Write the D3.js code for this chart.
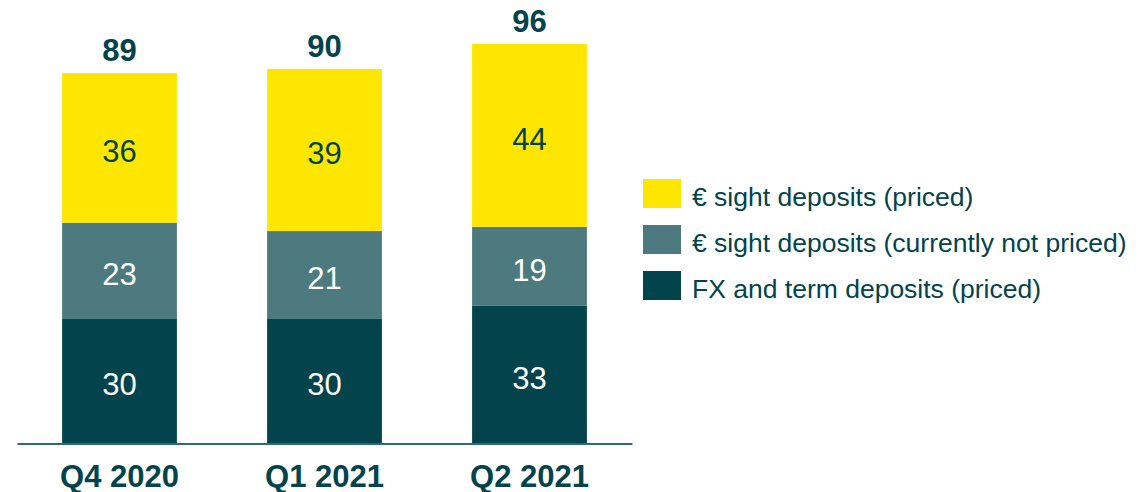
<!DOCTYPE html>
<html>
<head>
<meta charset="utf-8">
<script src="https://cdn.jsdelivr.net/npm/d3@7"></script>
<style>
  body { margin: 0; background: #fff; }
  text { font-family: Arial, "Liberation Sans", sans-serif; }
</style>
</head>
<body>
<svg id="chart"></svg>
<script>
let quarters = ['Q4 2020', 'Q1 2021', 'Q2 2021']
let fxTerm = [30, 30, 33]
let sightNotPriced = [23, 21, 19]
let sightPriced = [36, 39, 44]
let totals = [89, 90, 96]
let seriesNames = ['€ sight deposits (priced)', '€ sight deposits (currently not priced)', 'FX and term deposits (priced)']

let width = 1142
let height = 492
let dark = '#02434c'
let colors = { fx: '#02434c', np: '#4d7a7e', pr: '#ffe600' }

let svg = d3.select('#chart').attr('width', width).attr('height', height)

let rows = quarters.map((q, i) => ({ q: q, fx: fxTerm[i], np: sightNotPriced[i], pr: sightPriced[i], total: totals[i] }))
let stack = d3.stack().keys(['fx', 'np', 'pr'])(rows)

let xScale = d3.scaleBand().domain(quarters).range([17, 632]).paddingInner(0.44).paddingOuter(0.22)
let yScale = d3.scaleLinear().domain([0, 96]).range([443, 44])

// bars
let layers = svg.selectAll('g.layer')
    .data(stack)
    .enter()
    .append('g')
    .attr('class', 'layer')
    .attr('fill', d => colors[d.key])

layers.selectAll('rect')
    .data(d => d)
    .enter()
    .append('rect')
    .attr('x', d => xScale(d.data.q))
    .attr('width', xScale.bandwidth())
    .attr('y', d => yScale(d[1]))
    .attr('height', d => yScale(d[0]) - yScale(d[1]))

// segment labels
stack.forEach(layer => {
    svg.append('g').selectAll('text')
        .data(layer)
        .enter()
        .append('text')
        .attr('x', d => xScale(d.data.q) + xScale.bandwidth() / 2)
        .attr('y', d => (yScale(d[0]) + yScale(d[1])) / 2)
        .attr('dy', '0.46em')
        .attr('text-anchor', 'middle')
        .attr('font-size', 31)
        .attr('fill', layer.key == 'pr' ? dark : '#fff')
        .text(d => d.data[layer.key])
})

// totals
svg.append('g').selectAll('text')
    .data(rows)
    .enter()
    .append('text')
    .attr('x', d => xScale(d.q) + xScale.bandwidth() / 2)
    .attr('y', d => yScale(d.fx + d.np + d.pr) - 12)
    .attr('text-anchor', 'middle')
    .attr('font-size', 31)
    .attr('font-weight', 'bold')
    .attr('fill', dark)
    .text(d => d.total)

// x axis
let xAxis = d3.axisBottom(xScale).tickSize(0)
let gx = svg.append('g')
    .attr('transform', 'translate(0,443.5)')
    .call(xAxis)
gx.select('.domain').attr('stroke', '#2f6a70').attr('stroke-width', 2)
gx.selectAll('text')
    .attr('y', 43)
    .attr('dy', 0)
    .attr('font-size', 31)
    .attr('font-weight', 'bold')
    .attr('fill', dark)
    .attr('font-family', 'Arial, "Liberation Sans", sans-serif')

// legend
let legendKeys = ['pr', 'np', 'fx']
let legend = svg.append('g').selectAll('g')
    .data(legendKeys)
    .enter()
    .append('g')
    .attr('transform', (d, i) => 'translate(643,' + (179 + i * 46) + ')')

legend.append('rect')
    .attr('width', 38)
    .attr('height', 29)
    .attr('fill', d => colors[d])

legend.append('text')
    .attr('x', 49)
    .attr('y', 17)
    .attr('dy', '0.36em')
    .attr('font-size', 26.5)
    .attr('fill', dark)
    .text((d, i) => seriesNames[i])
</script>
</body>
</html>
